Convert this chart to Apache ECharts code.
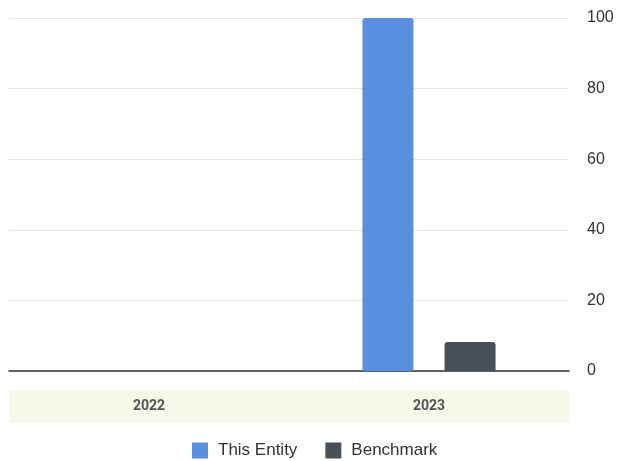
<!DOCTYPE html>
<html>
<head>
<meta charset="utf-8">
<script src="https://cdn.jsdelivr.net/npm/echarts@6/dist/echarts.min.js"></script>
<style>
  html, body { margin: 0; padding: 0; background: #fff; }
  #chart { width: 617px; height: 461px; }
</style>
</head>
<body>
<div id="chart"></div>
<script>
// Yearly comparison: this entity vs. benchmark
const years = ['2022', '2023'];
const entityValues = [0, 100];
const benchmarkValues = [0, 8.2];
const yTicks = [0, 20, 40, 60, 80, 100];

const sans = 'Liberation Sans, Arial, sans-serif';

const chart = echarts.init(document.getElementById('chart'), null, { renderer: 'canvas' });

chart.setOption({
  animation: false,
  textStyle: { fontFamily: sans },
  grid: { left: 9, right: 48, top: 18, bottom: 90 },
  legend: {
    bottom: -3,
    left: 187,
    itemWidth: 16,
    itemHeight: 16,
    itemGap: 28,
    icon: 'rect',
    textStyle: { fontSize: 17, color: '#333', fontFamily: sans, padding: [0, 0, 0, 5] },
    data: ['This Entity', 'Benchmark']
  },
  xAxis: {
    type: 'category',
    data: years,
    axisLine: { show: true, lineStyle: { color: '#333', width: 1.5 } },
    axisTick: { show: false },
    axisLabel: {
      margin: 19,
      width: 280,
      height: 33,
      lineHeight: 33,
      align: 'center',
      backgroundColor: '#f6f8ea',
      color: '#555',
      fontSize: 14,
      fontWeight: 'bold',
      fontFamily: 'Roboto, Liberation Sans, sans-serif'
    }
  },
  yAxis: {
    type: 'value',
    position: 'right',
    min: yTicks[0],
    max: yTicks[yTicks.length - 1],
    interval: 20,
    axisLine: { show: false },
    axisTick: { show: false },
    axisLabel: { margin: 18, color: '#333', fontSize: 16, fontFamily: sans },
    splitLine: { lineStyle: { color: '#e6e6e6', width: 1 } }
  },
  series: [
    {
      name: 'This Entity',
      type: 'bar',
      data: entityValues,
      barWidth: 51,
      barGap: '61%',
      itemStyle: { color: '#5a8fe0', borderRadius: [3, 3, 0, 0] }
    },
    {
      name: 'Benchmark',
      type: 'bar',
      data: benchmarkValues,
      barWidth: 51,
      itemStyle: { color: '#4a5058', borderRadius: [3, 3, 0, 0] }
    }
  ]
});
</script>
</body>
</html>
